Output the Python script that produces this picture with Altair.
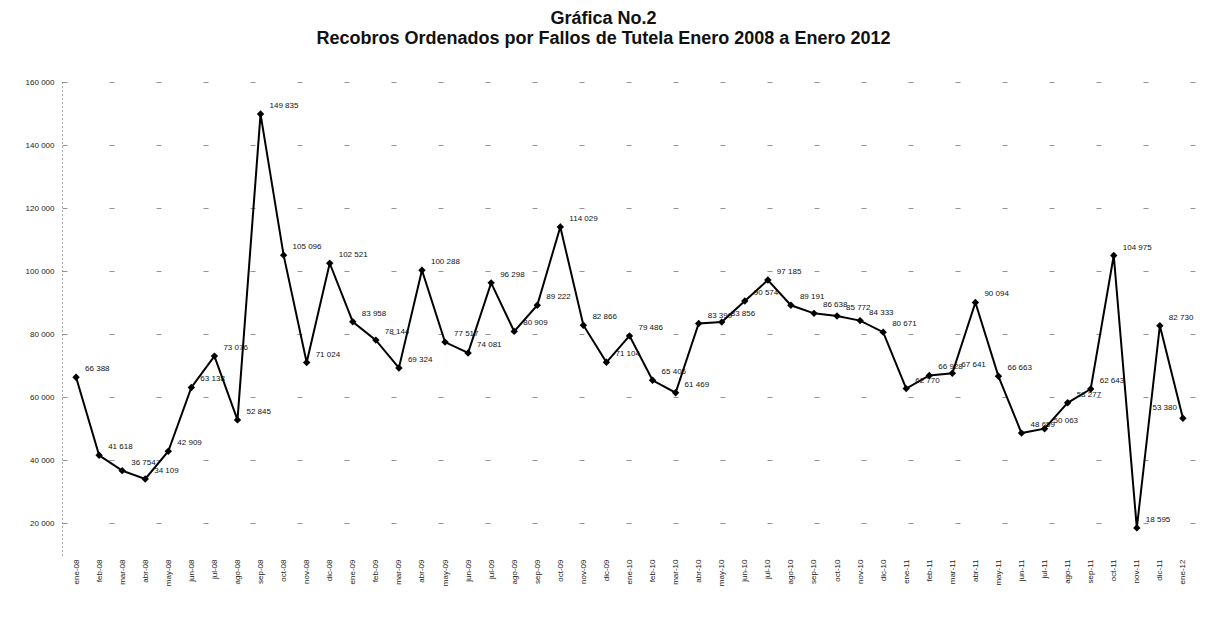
import altair as alt
import pandas as pd

months = [
    "ene-08", "feb-08", "mar-08", "abr-08", "may-08", "jun-08", "jul-08", "ago-08", "sep-08", "oct-08", "nov-08", "dic-08",
    "ene-09", "feb-09", "mar-09", "abr-09", "may-09", "jun-09", "jul-09", "ago-09", "sep-09", "oct-09", "nov-09", "dic-09",
    "ene-10", "feb-10", "mar-10", "abr-10", "may-10", "jun-10", "jul-10", "ago-10", "sep-10", "oct-10", "nov-10", "dic-10",
    "ene-11", "feb-11", "mar-11", "abr-11", "may-11", "jun-11", "jul-11", "ago-11", "sep-11", "oct-11", "nov-11", "dic-11",
    "ene-12",
]
values = [
    66388, 41618, 36754, 34109, 42909, 63138, 73076, 52845, 149835, 105096, 71024, 102521,
    83958, 78144, 69324, 100288, 77517, 74081, 96298, 80909, 89222, 114029, 82866, 71104,
    79486, 65405, 61469, 83399, 83856, 90574, 97185, 89191, 86638, 85772, 84333, 80671,
    62770, 66928, 67641, 90094, 66663, 48659, 50063, 58277, 62643, 104975, 18595, 82730,
    53380,
]
y_ticks = [20000, 40000, 60000, 80000, 100000, 120000, 140000, 160000]

df = pd.DataFrame({"mes": months, "valor": values})
df["etiqueta"] = [f"{v:,}".replace(",", " ") for v in values]
df["ultimo"] = [m == months[-1] for m in months]

FONT = "Liberation Sans"

base = alt.Chart(df).encode(
    x=alt.X(
        "mes:O",
        sort=months,
        title=None,
        scale=alt.Scale(type="point", padding=0.61),
        axis=alt.Axis(
            labelAngle=-90,
            labelFontSize=8,
            labelFont=FONT,
            labelColor="#222",
            domain=False,
            ticks=False,
            labelPadding=4,
        ),
    ),
    y=alt.Y(
        "valor:Q",
        title=None,
        scale=alt.Scale(domain=[10000, 160000], nice=False, zero=False),
        axis=alt.Axis(
            values=y_ticks,
            labelExpr="replace(format(datum.value, ',d'), ',', ' ')",
            labelFontSize=8,
            labelFont=FONT,
            labelColor="#222",
            labelPadding=8,
            ticks=False,
            domain=True,
            domainColor="#555",
            domainDash=[1, 3],
            grid=True,
            gridColor="#666",
            gridDash=[5, 42],
            gridOpacity=0.7,
        ),
    ),
)

line = base.mark_line(color="black", strokeWidth=2)
pts = base.mark_point(shape="diamond", filled=True, color="black", size=55, opacity=1)
txt = base.transform_filter("!datum.ultimo").mark_text(
    align="left", dx=9, dy=-8, fontSize=8, font=FONT, color="#111"
).encode(text="etiqueta:N")
txt_last = base.transform_filter("datum.ultimo").mark_text(
    align="right", dx=-6, dy=-10, fontSize=8, font=FONT, color="#111"
).encode(text="etiqueta:N")

chart = (
    alt.layer(line, pts, txt, txt_last)
    .properties(
        width=1135,
        height=473,
        title=alt.Title(
            ["Gráfica No.2", "Recobros Ordenados por Fallos de Tutela Enero 2008 a Enero 2012"],
            anchor="middle",
            font=FONT,
            fontSize=18,
            fontWeight="bold",
            color="#111",
            dx=-26,
            offset=30,
            lineHeight=20,
        ),
        autosize=alt.AutoSizeParams(type="none"),
        padding={"left": 54, "top": 74, "right": 0, "bottom": 50},
    )
    .configure_view(stroke=None)
)

chart.save("out.html", embed_options={"renderer": "svg", "actions": False})
